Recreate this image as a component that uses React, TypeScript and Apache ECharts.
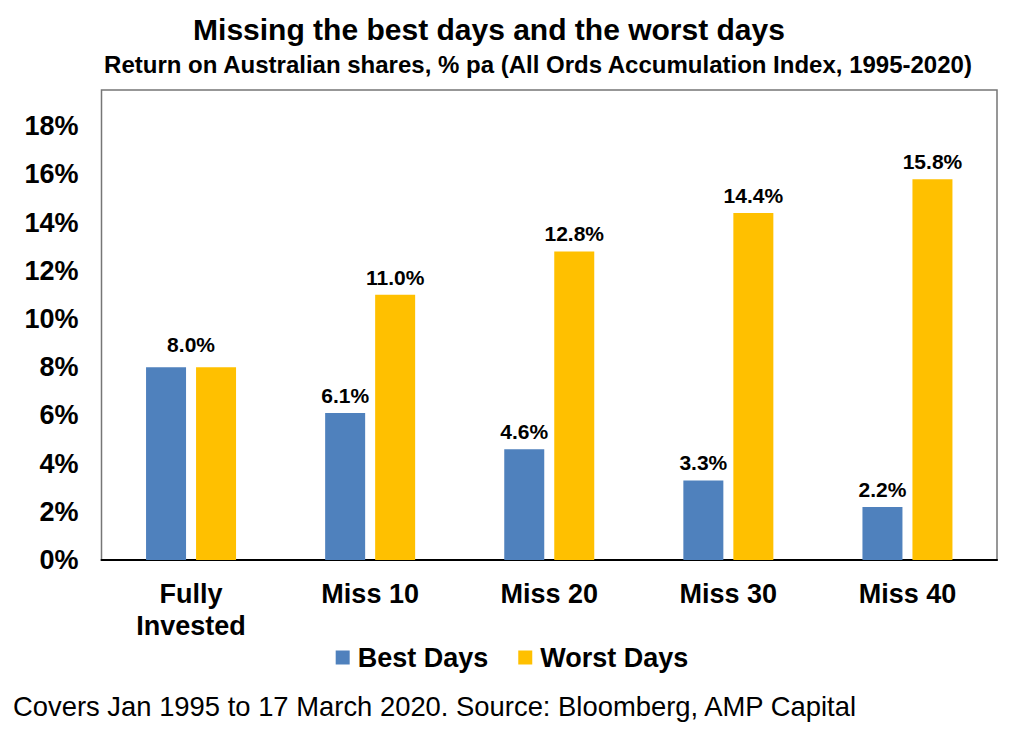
import React, { useEffect, useRef } from "react";
import * as echarts from "echarts";

const categories = ["Fully\nInvested", "Miss 10", "Miss 20", "Miss 30", "Miss 40"];
const bestDays = [8.0, 6.1, 4.6, 3.3, 2.2];
const worstDays = [8.0, 11.0, 12.8, 14.4, 15.8];
const seriesNames = ["Best Days", "Worst Days"];

const FONT = "'Liberation Sans', Arial, sans-serif";

export default function App() {
  const ref = useRef<HTMLDivElement>(null);
  useEffect(() => {
    document.body.style.margin = "0";
    const chart = echarts.init(ref.current!, null, { renderer: "svg" });
    const labelStyle = {
      show: true,
      position: "top",
      distance: 7,
      fontFamily: FONT,
      fontWeight: "bold",
      fontSize: 21,
      color: "#000",
      formatter: (p: any) => p.value.toFixed(1) + "%",
    };
    chart.setOption({
      animation: false,
      backgroundColor: "#fff",
      textStyle: { fontFamily: FONT },
      title: [
        {
          text: "Missing the best days and the worst days",
          left: 489,
          top: 14,
          padding: 0,
          textAlign: "center",
          textStyle: { fontFamily: FONT, fontWeight: "bold", fontSize: 30, color: "#000" },
        },
        {
          text: "Return on Australian shares, % pa (All Ords Accumulation Index, 1995-2020)",
          left: 538,
          top: 52,
          padding: 0,
          textAlign: "center",
          textStyle: { fontFamily: FONT, fontWeight: "bold", fontSize: 24, color: "#000" },
        },
        {
          text: "Covers Jan 1995 to 17 March 2020. Source: Bloomberg, AMP Capital",
          left: 13,
          top: 693,
          padding: 0,
          textStyle: { fontFamily: FONT, fontWeight: "normal", fontSize: 27.4, color: "#000" },
        },
      ],
      legend: {
        data: seriesNames,
        left: "center",
        top: 639,
        itemWidth: 14,
        itemHeight: 14,
        itemGap: 30,
        icon: "rect",
        textStyle: {
          fontFamily: FONT,
          fontWeight: "bold",
          fontSize: 27,
          color: "#000",
          padding: [0, 0, 0, 3],
        },
      },
      grid: {
        left: 101.5,
        right: 27,
        top: 90,
        bottom: 170,
        show: true,
        borderColor: "#767676",
        borderWidth: 1.5,
        containLabel: false,
      },
      xAxis: {
        type: "category",
        data: categories,
        axisLine: { show: true, lineStyle: { color: "#000", width: 2 } },
        axisTick: { show: false },
        axisLabel: {
          margin: 18,
          fontFamily: FONT,
          fontWeight: "bold",
          fontSize: 27,
          lineHeight: 32,
          color: "#000",
        },
      },
      yAxis: {
        type: "value",
        min: 0,
        max: 19.5,
        interval: 2,
        splitLine: { show: false },
        axisLine: { show: false },
        axisTick: { show: false },
        axisLabel: {
          showMaxLabel: false,
          margin: 23,
          fontFamily: FONT,
          fontWeight: "bold",
          fontSize: 27,
          color: "#000",
          formatter: (v: number) => v + "%",
        },
      },
      series: [
        {
          name: seriesNames[0],
          type: "bar",
          barWidth: 40,
          barGap: "25%",
          itemStyle: { color: "#4F81BD" },
          label: labelStyle,
          data: bestDays.map((v, i) => (i === 0 ? { value: v, label: { show: false } } : v)),
        },
        {
          name: seriesNames[1],
          type: "bar",
          barWidth: 40,
          barGap: "25%",
          itemStyle: { color: "#FFC000" },
          label: labelStyle,
          data: worstDays.map((v, i) => (i === 0 ? { value: v, label: { offset: [-25, -5] } } : v)),
        },
      ],
    });
    return () => chart.dispose();
  }, []);
  return <div ref={ref} style={{ width: 1024, height: 730 }} />;
}
